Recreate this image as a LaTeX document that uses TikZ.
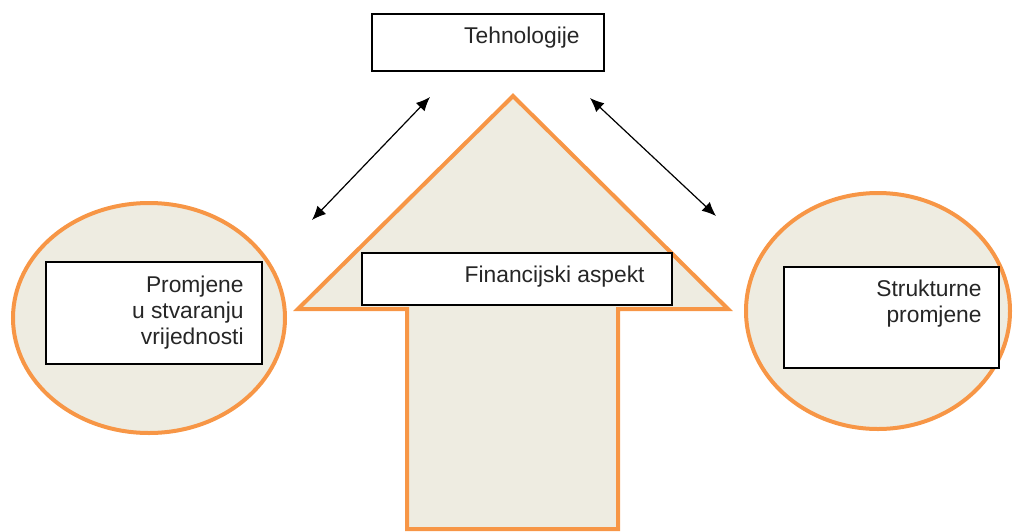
\documentclass[tikz,border=0pt]{standalone}
\usepackage{fontspec}
\setmainfont{Liberation Sans}
\usetikzlibrary{shapes.geometric, arrows.meta}
\definecolor{orng}{HTML}{F79646}
\definecolor{tanfill}{HTML}{EEECE1}

\begin{document}
\begin{tikzpicture}[x=0.5pt, y=-0.5pt,
        blob/.style={ellipse, draw=orng, line width=2pt, fill=tanfill, inner sep=0pt},
        box/.style={rectangle, draw=black, line width=0.6pt, fill=white, inner sep=0pt},
        lbl/.style={inner sep=0pt, align=right, text=black!85, font=\fontsize{11.4}{13}\selectfont},
        link/.style={line width=0.6pt, {Latex[length=7pt,width=6pt]}-{Latex[length=7pt,width=6pt]}}]
            \useasboundingbox (0, 0) rectangle (1013, 531);
            \node[blob, minimum width=136pt, minimum height=115pt] (leftblob) at (149, 318) {};
            \node[blob, minimum width=132pt, minimum height=118pt] (rightblob) at (878, 311) {};
            \draw[orng, line width=2pt, fill=tanfill, line join=miter]
                (513, 96) -- (728, 309) -- (618, 309) -- (618, 529) -- (407, 529) -- (407, 309) -- (298, 309) -- cycle;
            \node[box, minimum width=116pt, minimum height=28.5pt] (techbox) at (488, 42.5) {};
            \node[box, minimum width=155pt, minimum height=26pt] (finbox) at (517, 279) {};
            \node[box, minimum width=108pt, minimum height=51pt] (valbox) at (154, 313) {};
            \node[box, minimum width=107.5pt, minimum height=50.5pt] (strbox) at (891.5, 317.5) {};
            \node[lbl, anchor=base east] (techtxt) at (580, 43) {Tehnologije};
            \node[lbl, anchor=base east] (fintxt) at (645, 282) {Financijski aspekt};
            \node[lbl, anchor=east] (valtxt) at (244, 313) {Promjene\\u stvaranju\\vrijednosti};
            \node[lbl, anchor=east] (strtxt) at (982, 304) {Strukturne\\promjene};
            \coordinate (la) at (312, 220);
            \coordinate (lb) at (430, 97);
            \coordinate (ra) at (590, 98);
            \coordinate (rb) at (716, 216);
            \draw[link] (la) -- (lb);
            \draw[link] (ra) -- (rb);
        \end{tikzpicture}
\end{document}
